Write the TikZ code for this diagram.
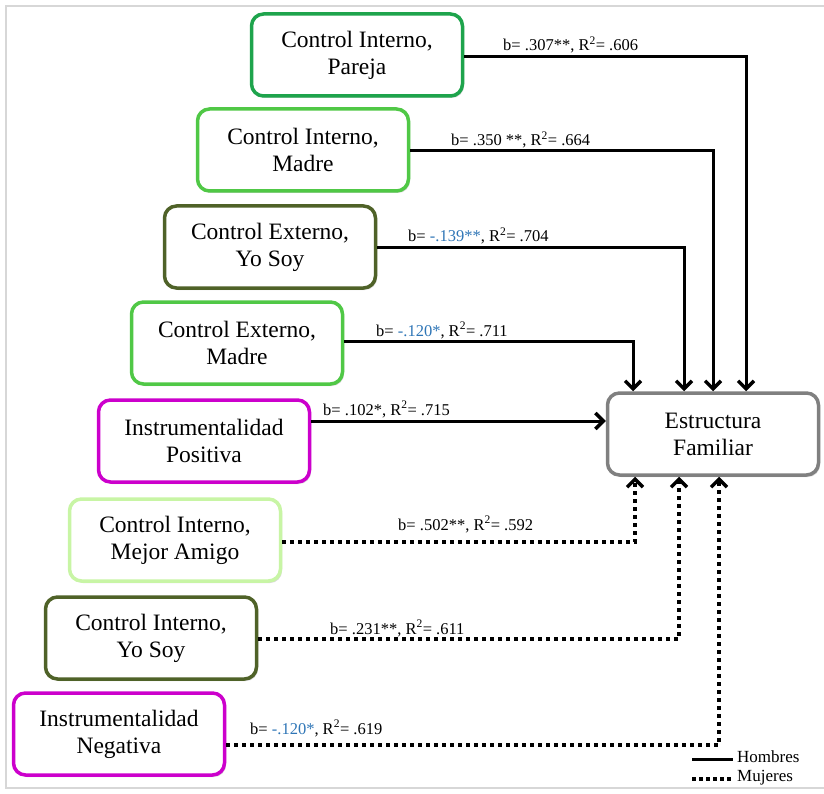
\documentclass[tikz,border=0pt]{standalone}
\usepackage{fontspec}
\setmainfont{Liberation Serif}
\usetikzlibrary{arrows.meta,shadows}
\definecolor{gdark}{RGB}{30,164,76}
\definecolor{gbright}{RGB}{80,200,70}
\definecolor{golive}{RGB}{79,98,40}
\definecolor{glight}{RGB}{200,245,165}
\definecolor{magen}{RGB}{204,0,204}
\definecolor{grayb}{RGB}{128,128,128}
\definecolor{blueval}{RGB}{46,117,182}
\definecolor{frame}{RGB}{215,215,215}
\begin{document}
\begin{tikzpicture}[x=1pt,y=-1pt,
  box/.style={draw, line width=3.5pt, rounded corners=12pt, fill=white,
    minimum width=211pt, minimum height=82pt, align=center, inner sep=2pt,
    font=\rmfamily\fontsize{23.5}{27}\selectfont,
    drop shadow={opacity=0.3, shadow xshift=1.5pt, shadow yshift=-2pt}},
  lbl/.style={anchor=base west, inner sep=0pt, font=\rmfamily\fontsize{16.5}{18}\selectfont},
  leg/.style={anchor=west, inner sep=0pt, font=\rmfamily\fontsize{17}{19}\selectfont},
  hom/.style={line width=3pt, -{Straight Barb[length=8pt,width=16pt,line width=3.5pt]}},
  muj/.style={line width=4pt, dash pattern=on 4pt off 4pt, -{Straight Barb[length=8pt,width=16pt,line width=3.5pt]}},
]
\useasboundingbox (0,0) rectangle (824,794);
% frame
\draw[frame, line width=1.5pt] (824,6) -- (6,6) -- (6,788) -- (824,788);

% boxes
\node[box, draw=gdark] (pareja) at (357,55) {Control Interno,\\Pareja};
\node[box, draw=gbright] (madre) at (303,150) {Control Interno,\\Madre};
\node[box, draw=golive] (extyo) at (270,247) {Control Externo,\\Yo Soy};
\node[box, draw=gbright] (extmadre) at (237,343) {Control Externo,\\Madre};
\node[box, draw=magen] (ipos) at (204,441) {Instrumentalidad\\Positiva};
\node[box, draw=glight] (amigo) at (175,540) {Control Interno,\\Mejor Amigo};
\node[box, draw=golive] (intyo) at (151,638) {Control Interno,\\Yo Soy};
\node[box, draw=magen] (ineg) at (119,734) {Instrumentalidad\\Negativa};
\node[box, draw=grayb] (ef) at (713,434) {Estructura\\Familiar};

% labels
\node[lbl] (l1) at (503,51) {b= .307**, R\textsuperscript{2}= .606};
\node[lbl] (l2) at (451,146) {b= .350 **, R\textsuperscript{2}= .664};
\node[lbl] (l3) at (408,242) {b= \textcolor{blueval}{-.139**}, R\textsuperscript{2}= .704};
\node[lbl] (l4) at (376,336) {b= \textcolor{blueval}{-.120*}, R\textsuperscript{2}= .711};
\node[lbl] (l5) at (323,415) {b= .102*, R\textsuperscript{2}= .715};
\node[lbl] (l6) at (398,530) {b= .502**, R\textsuperscript{2}= .592};
\node[lbl] (l7) at (330,634) {b= .231**, R\textsuperscript{2}= .611};
\node[lbl] (l8) at (250,734) {b= \textcolor{blueval}{-.120*}, R\textsuperscript{2}= .619};

% connectors (men)
\draw[hom] (pareja.east |- 0,57) -| (ef.north -| 746,0);
\draw[hom] (madre.east |- 0,151) -| (ef.north -| 713,0);
\draw[hom] (extyo.east |- 0,248) -| (ef.north -| 684,0);
\draw[hom] (extmadre.east |- 0,341) -| (ef.north -| 633,0);
\draw[hom] (ipos.east |- 0,421) -- (ef.west |- 0,421);
% connectors (women)
\draw[muj] (amigo.east |- 0,542) -| (ef.south -| 635,0);
\draw[muj] (intyo.east |- 0,639) -| (ef.south -| 679,0);
\draw[muj] (ineg.east |- 0,745) -| (ef.south -| 719,0);

% legend
\coordinate (h1) at (692,759);
\coordinate (h2) at (733,759);
\coordinate (m1) at (692,779);
\coordinate (m2) at (733,779);
\draw[line width=3pt] (h1) -- (h2);
\draw[line width=4pt, dash pattern=on 4pt off 3pt] (m1) -- (m2);
\node[leg] (hlab) at (737,757) {Hombres};
\node[leg] (mlab) at (737,778) {Mujeres};
\end{tikzpicture}
\end{document}
